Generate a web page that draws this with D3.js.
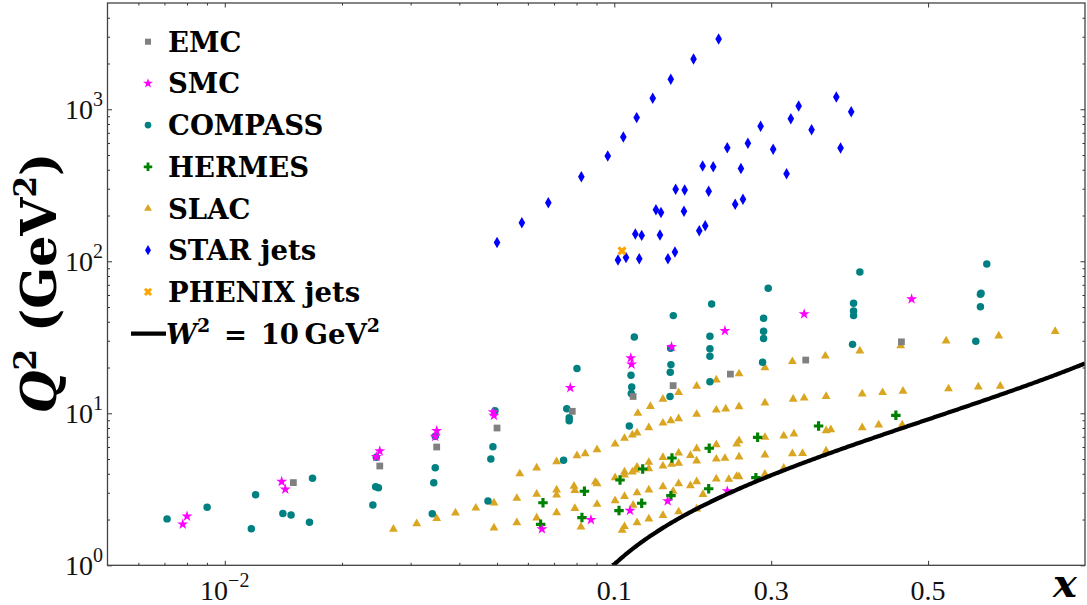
<!DOCTYPE html>
<html>
<head>
<meta charset="utf-8">
<script src="https://cdn.jsdelivr.net/npm/d3@7"></script>
<style>
  body { margin: 0; background: #fff; }
  svg { display: block; }
</style>
</head>
<body>
<svg id="chart" width="1087" height="605"></svg>
<script>
// ---- Kinematic coverage of polarized DIS and jet data: [x, Q^2 (GeV^2)] ----
const emc = [[0.015,3.5],[0.025,4.5],[0.035,6.0],[0.050,8.0],[0.078,10.3],[0.124,12.9],[0.175,15.2],[0.248,18.1],[0.344,22.4],[0.466,29.5]];

const smc = [[0.0078,1.86],[0.0080,2.10],[0.0140,3.55],[0.0143,3.16],[0.0245,5.18],[0.0250,5.65],[0.0347,7.02],[0.0350,7.68],
  [0.0489,10.2],[0.0491,9.65],[0.0652,1.73],[0.0771,14.7],[0.0871,1.99],[0.121,23.1],[0.122,21.0],[0.173,27.4],[0.241,34.9],
  [0.342,45.0],[0.479,56.5],[0.168,2.65],[0.120,2.29],[0.244,3.08]];

const compass = [[0.00711,2.02],[0.00901,2.41],[0.0120,2.91],[0.0117,1.74],[0.0168,3.74],[0.0141,2.19],[0.0148,2.14],[0.0165,1.92],
  [0.0240,2.49],[0.0244,3.29],[0.0248,3.24],[0.0245,5.14],[0.0341,2.18],[0.0344,3.49],[0.0347,4.39],[0.0347,7.06],[0.0474,2.65],
  [0.0482,5.00],[0.0488,6.03],[0.0494,10.4],[0.0741,4.91],[0.0755,10.7],[0.0766,9.35],[0.0766,8.94],[0.0802,19.7],
  [0.1255,31.8],[0.1213,17.8],[0.1222,14.9],[0.1217,13.5],[0.1191,8.25],[0.1752,43.9],[0.1718,26.8],[0.1722,20.9],[0.1713,18.6],
  [0.171,12.9],[0.2241,52.4],[0.2219,32.1],[0.2219,26.6],[0.2219,23.7],[0.2219,16.1],[0.2962,66.4],[0.2903,42.2],[0.2903,34.6],
  [0.2903,31.0],[0.289,21.7],[0.4037,28.4],[0.413,85.0],[0.405,52.9],[0.405,47.1],[0.405,43.9],[0.5748,96.0],[0.5675,61.5],
  [0.5667,60.7],[0.5667,50.3],[0.5608,29.8]];

const hermes = [[0.0656,2.58],[0.0647,1.86],[0.0838,3.07],[0.0826,2.06],[0.2827,6.95],[0.221,5.89],[0.1735,5.08],[0.1362,4.30],
  [0.1073,3.64],[0.2805,3.77],[0.2203,3.19],[0.1722,2.87],[0.1349,2.56],[0.106,2.29],[0.4589,9.70],[0.3604,8.25]];

const slac = [[0.0271,1.73],[0.0311,1.88],[0.0350,2.03],[0.0391,2.21],[0.0441,2.38],[0.0491,2.57],[0.0491,1.76],[0.0562,1.91],
  [0.0562,2.76],[0.0572,4.00],[0.0632,4.37],[0.0632,2.94],[0.0632,2.05],[0.0711,4.80],[0.0711,3.13],[0.0711,2.90],[0.0711,2.22],
  [0.0802,5.26],[0.0842,5.42],[0.0903,5.76],[0.0788,3.32],[0.0792,3.11],[0.0894,3.53],[0.0903,3.44],[0.0792,2.37],[0.0903,2.52],
  [0.0821,1.79],
  [0.327,21.9],[0.369,23.8],[0.292,19.95],[0.259,18.2],[0.230,16.6],[0.205,15.1],[0.182,13.7],[0.162,12.4],[0.146,11.1],[0.130,10.0],
  [0.370,12.9],[0.342,12.6],[0.328,12.4],[0.292,11.7],[0.259,11.05],[0.242,10.7],[0.230,10.5],[0.205,9.85],[0.182,9.22],[0.172,8.94],
  [0.162,8.63],[0.144,8.04],[0.129,7.42],[0.123,7.20],[0.113,6.85],[0.101,6.28],
  [0.376,7.80],[0.370,7.68],[0.329,7.31],[0.316,7.09],[0.292,6.95],[0.259,6.61],[0.256,6.28],[0.230,6.22],[0.205,5.85],[0.182,5.48],
  [0.197,5.29],[0.162,5.13],[0.144,4.76],[0.129,4.43],[0.127,4.24],[0.113,4.11],[0.113,3.93],[0.123,4.11],[0.101,3.77],
  [0.327,5.42],[0.340,5.45],[0.292,5.32],[0.259,5.16],[0.241,5.06],[0.230,5.00],[0.205,4.86],[0.182,4.69],[0.173,4.62],[0.162,4.50],
  [0.144,4.32],
  [0.292,3.98],[0.259,3.83],[0.256,3.85],[0.246,3.68],[0.230,3.70],[0.205,3.55],[0.182,3.44],[0.197,3.34],[0.162,3.29],[0.144,3.13],
  [0.129,3.00],[0.113,2.84],[0.101,2.66],[0.213,2.93],[0.175,3.07],[0.124,2.49],[0.182,2.25],[0.205,2.35],[0.162,2.13],[0.144,2.02],
  [0.129,1.91],[0.113,1.80],[0.110,1.70],[0.316,4.35],[0.370,5.65],
  [0.465,27.8],[0.413,25.7],[0.523,29.9],[0.590,32.3],[0.662,34.6],[0.416,13.4],[0.442,13.7],[0.468,14.0],[0.526,14.5],[0.564,14.9],
  [0.592,15.1],[0.416,8.04],[0.437,8.38],[0.467,8.38]];

const starJets = [[0.233,2900],[0.201,2143],[0.172,1574],[0.149,1181],[0.1285,881],[0.1115,657],[0.0962,493],[0.0823,360],
  [0.0677,243],[0.0579,179],[0.0500,133],
  [0.383,1205],[0.402,964],[0.335,1051],[0.325,867],[0.3515,734],[0.2865,773],[0.2703,598],[0.244,559],[0.3025,545],[0.3884,556],
  [0.2126,424],[0.2261,419],[0.2614,407],[0.3196,377],[0.1782,298],[0.1897,294],[0.2203,289],[0.264,256],[0.2541,237],
  [0.1531,218],[0.1595,209],[0.1888,213],[0.1268,151],[0.1349,148],[0.1582,149],[0.2159,171],[0.2083,159],[0.1773,115],
  [0.1684,104],[0.1318,104],[0.1149,106],[0.1047,102]];

const phenixJets = [[0.1098,117]];

// Axis ticks
const xMinorTicks = [0.006,0.007,0.008,0.009,0.02,0.03,0.04,0.05,0.06,0.07,0.08,0.09];
const xTickLabels = [{v:0.01, base:"10", sup:"\u22122"},{v:0.1, base:"0.1"},{v:0.3, base:"0.3"},{v:0.5, base:"0.5"}];
const yMajorTicks = [1,10,100,1000];
const yTickLabels = [{v:1, sup:"0"},{v:10, sup:"1"},{v:100, sup:"2"},{v:1000, sup:"3"}];

// Constant invariant-mass line W^2 = 10 GeV^2
const W2 = 10;
const protonMass2 = 0.8803;

// ---- Layout ----
const svg = d3.select("#chart");
const plotLeft = 107.5, plotBreak = 614.3, plotRight = 1085, plotTop = 3, plotBottom = 565.3;

// x axis: logarithmic below 0.1, linear above
const xLog = d3.scaleLog().domain([0.005, 0.1]).range([plotLeft, plotBreak]);
const xLin = d3.scaleLinear().domain([0.1, 0.7]).range([plotBreak, plotRight]);
const X = v => (v < 0.1 ? xLog(v) : xLin(v));
const Y = d3.scaleLog().domain([1, 5000]).range([plotBottom, plotTop]);

const serif = "'Liberation Serif', 'Times New Roman', serif";
const boldSerif = "'DejaVu Serif', serif";

svg.append("defs").append("clipPath").attr("id", "plotClip")
  .append("rect").attr("x", plotLeft).attr("y", plotTop)
  .attr("width", plotRight - plotLeft).attr("height", plotBottom - plotTop);

// ---- Ticks (drawn inward on all four sides) ----
const tickColor = "#333";
function tickLines(g) { g.select(".domain").remove(); g.selectAll("line").attr("stroke", tickColor).attr("stroke-width", 1); }

[[plotBottom, d3.axisBottom], [plotTop, d3.axisTop]].forEach(([yPos, axisFn]) => {
  svg.append("g").attr("transform", `translate(0,${yPos})`)
    .call(axisFn(xLog).tickValues(xMinorTicks).tickSize(-2.5).tickFormat("")).call(tickLines);
  svg.append("g").attr("transform", `translate(0,${yPos})`)
    .call(axisFn(xLog).tickValues([0.01]).tickSize(-4.5).tickFormat("")).call(tickLines);
  svg.append("g").attr("transform", `translate(0,${yPos})`)
    .call(axisFn(xLin).tickValues([0.1,0.3,0.5]).tickSize(-4.5).tickFormat("")).call(tickLines);
});

const yMinorTicks = [];
yMajorTicks.forEach(m => { for (let k = 2; k <= 9; k++) if (m * k < 5000) yMinorTicks.push(m * k); });

[[plotLeft, d3.axisLeft], [plotRight, d3.axisRight]].forEach(([xPos, axisFn]) => {
  svg.append("g").attr("transform", `translate(${xPos},0)`)
    .call(axisFn(Y).tickValues(yMinorTicks).tickSize(-2.5).tickFormat("")).call(tickLines);
  svg.append("g").attr("transform", `translate(${xPos},0)`)
    .call(axisFn(Y).tickValues(yMajorTicks).tickSize(-4.5).tickFormat("")).call(tickLines);
});

// ---- Tick labels ----
xTickLabels.forEach(t => {
  const txt = svg.append("text").attr("x", X(t.v)).attr("y", 600)
    .attr("text-anchor", "middle").attr("font-family", serif).attr("font-size", 28).attr("fill", "#111");
  txt.append("tspan").text(t.base);
  if (t.sup) txt.append("tspan").attr("dy", -13).attr("font-size", 20).text(t.sup);
});

yTickLabels.forEach(t => {
  const txt = svg.append("text").attr("x", 103).attr("y", Y(t.v) + 10)
    .attr("text-anchor", "end").attr("font-family", serif).attr("font-size", 28).attr("fill", "#111");
  txt.append("tspan").text("10");
  txt.append("tspan").attr("dy", -13).attr("font-size", 20).text(t.sup);
});

// ---- Axis titles ----
const yTitle = svg.append("text")
  .attr("transform", "translate(56,283) rotate(-90)")
  .attr("text-anchor", "middle").attr("font-family", boldSerif).attr("font-weight", "bold")
  .attr("font-size", 49).attr("fill", "#000");
yTitle.append("tspan").attr("font-style", "italic").text("Q");
yTitle.append("tspan").attr("dy", -20).attr("font-size", 31).text("2");
yTitle.append("tspan").attr("dy", 20).text(" (GeV");
yTitle.append("tspan").attr("dy", -20).attr("font-size", 31).text("2");
yTitle.append("tspan").attr("dy", 20).text(")");

svg.append("text").attr("x", 1065).attr("y", 597).attr("text-anchor", "middle")
  .attr("font-family", boldSerif).attr("font-weight", "bold").attr("font-style", "italic")
  .attr("font-size", 40).attr("fill", "#000").text("x");

// ---- Data markers ----
const series = [
  { name: "EMC",         data: emc,        color: "#808080", type: d3.symbolSquare,   size: 46, rot: 0 },
  { name: "SMC",         data: smc,        color: "#ff00ff", type: d3.symbolStar,     size: 38, rot: 0 },
  { name: "COMPASS",     data: compass,    color: "#008080", type: d3.symbolCircle,   size: 44, rot: 0 },
  { name: "HERMES",      data: hermes,     color: "#008000", type: d3.symbolCross,    size: 50, rot: 0 },
  { name: "SLAC",        data: slac,       color: "#daa520", type: d3.symbolTriangle, size: 34, rot: 0 },
  { name: "STAR jets",   data: starJets,   color: "#0000ff", type: d3.symbolDiamond,  size: 38, rot: 0 },
  { name: "PHENIX jets", data: phenixJets, color: "#ffa500", type: d3.symbolCross,    size: 52, rot: 45 }
];

const plot = svg.append("g").attr("clip-path", "url(#plotClip)");

// draw order: lower layers first
const drawOrder = ["SLAC", "COMPASS", "EMC", "HERMES", "SMC", "STAR jets", "PHENIX jets"];
drawOrder.forEach(n => {
  const s = series.find(d => d.name === n);
  const sym = d3.symbol().type(s.type).size(s.size);
  plot.append("g").selectAll("path").data(s.data).join("path")
    .attr("d", sym)
    .attr("transform", d => `translate(${X(d[0])},${Y(d[1])}) rotate(${s.rot})`)
    .attr("fill", s.color);
});

// ---- W^2 = 10 GeV^2 curve: Q^2 = (W^2 - M^2) x / (1 - x) ----
const xStart = 1 / (W2 - protonMass2 + 1);
const curveX = d3.range(0, 301).map(i => xStart + (0.7 - xStart) * i / 300);
const curvePts = curveX.map(x => [x, (W2 - protonMass2) * x / (1 - x)]);
plot.append("path").datum(curvePts)
  .attr("d", d3.line().x(d => X(d[0])).y(d => Y(d[1])))
  .attr("fill", "none").attr("stroke", "#000").attr("stroke-width", 4.2);

// ---- Frame ----
svg.append("rect").attr("x", plotLeft).attr("y", plotTop)
  .attr("width", plotRight - plotLeft).attr("height", plotBottom - plotTop)
  .attr("fill", "none").attr("stroke", "#444").attr("stroke-width", 1.3);

// ---- Legend ----
const legend = svg.append("g");
const rowY = i => 41.7 + 41.7 * i;
series.forEach((s, i) => {
  legend.append("path")
    .attr("d", d3.symbol().type(s.type).size(s.size * 0.8))
    .attr("transform", `translate(148,${rowY(i)}) rotate(${s.rot})`)
    .attr("fill", s.color);
  legend.append("text").attr("x", 168).attr("y", rowY(i) + 10)
    .attr("font-family", boldSerif).attr("font-weight", "bold").attr("font-size", 27.5)
    .attr("fill", "#000").text(s.name);
});
legend.append("line").attr("x1", 131).attr("x2", 166).attr("y1", rowY(7)).attr("y2", rowY(7))
  .attr("stroke", "#000").attr("stroke-width", 4.2);
const wText = legend.append("text").attr("x", 166).attr("y", rowY(7) + 10)
  .attr("font-family", boldSerif).attr("font-weight", "bold").attr("font-size", 27.5).attr("fill", "#000");
wText.append("tspan").attr("font-style", "italic").text("W");
wText.append("tspan").attr("dy", -12).attr("font-size", 19).text("2");
wText.append("tspan").attr("dy", 12).attr("xml:space", "preserve").text("\u2002=\u200210\u2009GeV");
wText.append("tspan").attr("dy", -12).attr("font-size", 19).text("2");
</script>
</body>
</html>
